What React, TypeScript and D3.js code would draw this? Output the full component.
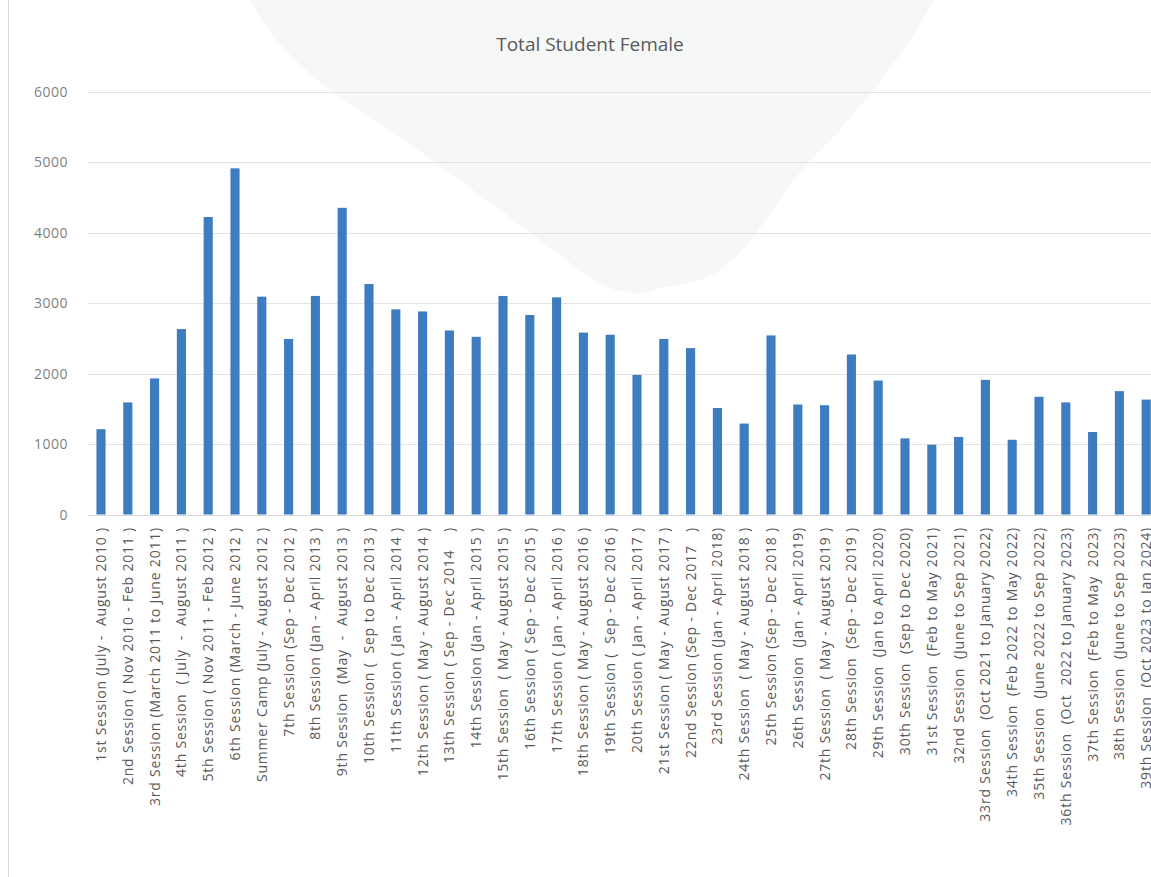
import React, { useEffect, useRef } from "react";
import * as d3 from "d3";

const sessions: string[] = [
  "1st Session (July -  August 2010 )",
  "2nd Session ( Nov 2010 - Feb 2011 )",
  "3rd Session (March 2011 to June 2011)",
  "4th Session  ( July  -  August 2011 )",
  "5th Session ( Nov 2011 - Feb 2012 )",
  "6th Session (March - June 2012 )",
  "Summer Camp (July - August 2012 )",
  "7th Session (Sep - Dec 2012 )",
  "8th Session (Jan - April 2013 )",
  "9th Session  (May  -  August 2013 )",
  "10th Session (  Sep to Dec 2013 )",
  "11th Session ( Jan - April 2014 )",
  "12th Session ( May - August 2014 )",
  "13th Session ( Sep - Dec 2014    )",
  "14th Session (Jan - April 2015 )",
  "15th Session  ( May - August 2015 )",
  "16th Session ( Sep - Dec 2015 )",
  "17th Session ( Jan - April 2016 )",
  "18th Session ( May - August 2016 )",
  "19th Session (  Sep - Dec 2016 )",
  "20th Session ( Jan - April 2017 )",
  "21st Session ( May - August 2017 )",
  "22nd Session (Sep - Dec 2017   )",
  "23rd Session (Jan - April 2018)",
  "24th Session  ( May - August 2018 )",
  "25th Session (Sep - Dec 2018 )",
  "26th Session  (Jan - April 2019)",
  "27th Session  ( May - August 2019 )",
  "28th Session  (Sep - Dec 2019 )",
  "29th Session  (Jan to April 2020)",
  "30th Session  (Sep to Dec 2020)",
  "31st Session  (Feb to May 2021)",
  "32nd Session  (June to Sep 2021)",
  "33rd Session  (Oct 2021 to January 2022)",
  "34th Session  (Feb 2022 to May 2022)",
  "35th Session  (June 2022 to Sep 2022)",
  "36th Session  (Oct  2022 to January 2023)",
  "37th Session  (Feb to May  2023)",
  "38th Session  (June to Sep 2023)",
  "39th Session  (Oct 2023 to Jan 2024)",
];

const femaleStudents: number[] = [
  1210, 1590, 1930, 2630, 4220, 4910, 3090, 2490, 3100, 4350,
  3270, 2910, 2880, 2610, 2520, 3100, 2830, 3080, 2580, 2550,
  1980, 2490, 2360, 1510, 1290, 2540, 1560, 1550, 2270, 1900,
  1080, 990, 1100, 1910, 1060, 1670, 1590, 1170, 1750, 1630,
];

const yTicks: number[] = [0, 1000, 2000, 3000, 4000, 5000, 6000];

const App: React.FC = () => {
  const svgRef = useRef<SVGSVGElement>(null);

  useEffect(() => {
    if (!svgRef.current) return;
    const svg = d3.select(svgRef.current);
    svg.selectAll("*").remove();

    const W = 1151;
    const H = 877;
    const font = "'Open Sans', 'Noto Sans', sans-serif";
    const grey = "#595959";

    svg.attr("width", W).attr("height", H);

    svg.append("rect").attr("width", W).attr("height", H).attr("fill", "#fff");

    // faint watermark shape behind the plot
    svg
      .append("path")
      .attr(
        "d",
        "M250,0 L935,0 C905,50 870,100 820,150 C780,190 760,240 720,270 C695,288 670,282 650,292 C610,300 580,270 540,240 C480,195 420,150 360,110 C310,80 270,40 250,0 Z"
      )
      .attr("fill", "#f6f8f8");

    // left border of chart area
    svg
      .append("line")
      .attr("x1", 8.5)
      .attr("x2", 8.5)
      .attr("y1", 0)
      .attr("y2", H)
      .attr("stroke", "#d9d9d9");

    const x = d3
      .scaleBand()
      .domain(sessions)
      .range([87.6, 87.6 + 26.8 * sessions.length])
      .paddingInner(0.66)
      .paddingOuter(0.33);

    const y = d3.scaleLinear().domain([0, 6000]).range([514.5, 91.5]);

    // gridlines
    svg
      .append("g")
      .selectAll("line")
      .data(yTicks.filter((t) => t > 0))
      .enter()
      .append("line")
      .attr("x1", 88)
      .attr("x2", W)
      .attr("y1", (d) => Math.round(y(d)) + 0.5)
      .attr("y2", (d) => Math.round(y(d)) + 0.5)
      .attr("stroke", "#e3e3e3")
      .attr("stroke-width", 1);

    // y labels
    svg
      .append("g")
      .selectAll("text")
      .data(yTicks)
      .enter()
      .append("text")
      .attr("x", 68)
      .attr("y", (d) => y(d) + 5)
      .attr("text-anchor", "end")
      .attr("font-family", font)
      .attr("font-size", 14)
      .attr("letter-spacing", 0.5)
      .attr("fill", "#7f7f7f")
      .text((d) => String(d));

    // bars
    svg
      .append("g")
      .selectAll("rect")
      .data(sessions)
      .enter()
      .append("rect")
      .attr("x", (d) => x(d) || 0)
      .attr("y", (d, i) => y(femaleStudents[i]))
      .attr("width", x.bandwidth())
      .attr("height", (d, i) => y(0) - y(femaleStudents[i]))
      .attr("fill", "#3d7cc0");

    // x axis line
    svg
      .append("line")
      .attr("x1", 88)
      .attr("x2", W)
      .attr("y1", 515.5)
      .attr("y2", 515.5)
      .attr("stroke", "#d9d9d9");

    // category labels
    svg
      .append("g")
      .selectAll("text")
      .data(sessions)
      .enter()
      .append("text")
      .attr(
        "transform",
        (d) => `translate(${(x(d) || 0) + x.bandwidth() / 2 + 5},527) rotate(-90)`
      )
      .attr("text-anchor", "end")
      .attr("font-family", font)
      .attr("font-size", 14)
      .attr("letter-spacing", 0.8)
      .attr("fill", grey)
      .style("white-space", "pre")
      .text((d) => d);

    // title
    svg
      .append("text")
      .attr("x", 590)
      .attr("y", 51)
      .attr("text-anchor", "middle")
      .attr("font-family", font)
      .attr("font-size", 19)
      .attr("fill", grey)
      .text("Total Student Female");
  }, []);

  return (
    <div style={{ position: "absolute", left: 0, top: 0 }}>
      <svg ref={svgRef}></svg>
    </div>
  );
};

export default App;
